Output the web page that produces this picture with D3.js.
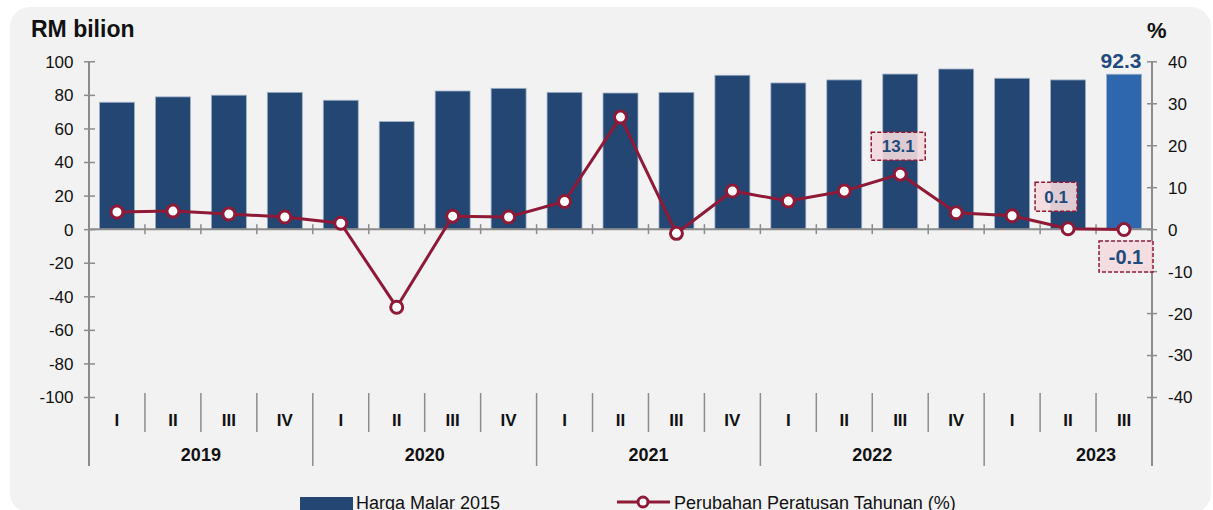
<!DOCTYPE html>
<html><head><meta charset="utf-8">
<script src="https://cdn.jsdelivr.net/npm/d3@7/dist/d3.min.js"></script>
<style>body{margin:0;background:#fff;} svg text{font-family:"Liberation Sans",Arial,sans-serif;}</style>
</head><body><svg id="c" width="1213" height="510"></svg>
<script>
const years = ["2019","2020","2021","2022","2023"];
const quarters = ["I","II","III","IV","I","II","III","IV","I","II","III","IV","I","II","III","IV","I","II","III"];
const quarterYears = ["2019","2019","2019","2019","2020","2020","2020","2020","2021","2021","2021","2021","2022","2022","2022","2022","2023","2023","2023"];
const hargaMalar = [75.6,78.8,79.8,81.5,76.8,64.1,82.3,83.9,81.5,81.1,81.5,91.7,87.1,88.9,92.4,95.4,89.9,88.9,92.3];
const perubahan = [4.1,4.3,3.6,2.9,1.4,-18.6,3.1,2.9,6.6,26.7,-1.0,9.1,6.7,9.1,13.1,3.9,3.2,0.1,-0.1];
const leftTicks = [100,80,60,40,20,0,-20,-40,-60,-80,-100];
const rightTicks = [40,30,20,10,0,-10,-20,-30,-40];
const annotations = [
  {i:14,text:"13.1",dx:-2,dy:-28,w:54,h:28,fs:17},
  {i:17,text:"0.1",dx:-12,dy:-32,w:42,h:29,fs:17},
  {i:18,text:"-0.1",dx:2,dy:27,w:54,h:31,fs:20}
];

const svg = d3.select("#c");
const x0 = 89, x1 = 1152;
svg.append("rect").attr("x",10).attr("y",7).attr("width",1201).attr("height",506).attr("rx",20).attr("fill","#f2f2f2");

const x = d3.scaleBand().domain(d3.range(quarters.length)).range([x0,x1]).paddingInner(0.375).paddingOuter(0.1875);
const xb = d3.scaleBand().domain(d3.range(quarters.length)).range([x0,x1]);
const yL = d3.scaleLinear().domain([-100,100]).range([397,61.3]);
const yR = d3.scaleLinear().domain([-40,40]).range([397,61.3]);
const axisCol = "#8c8c8c";
const fmt = d => String(d);

// bars
svg.append("g").selectAll("rect").data(hargaMalar).join("rect")
  .attr("x",(d,i)=>x(i)).attr("width",x.bandwidth())
  .attr("y",d=>yL(d)).attr("height",d=>yL(0)-yL(d))
  .attr("fill",(d,i)=>i===hargaMalar.length-1?"#2e67ad":"#234673")
  .attr("stroke","#9fb1c8").attr("stroke-width",0.8);

// left axis
const gl = svg.append("g").attr("transform",`translate(${x0},0)`)
  .call(d3.axisLeft(yL).tickValues(leftTicks).tickSize(5).tickFormat(fmt));
gl.select(".domain").remove();
gl.selectAll(".tick line").attr("x1",-5).attr("x2",6).attr("stroke",axisCol).attr("stroke-width",1.5);
gl.selectAll(".tick text").attr("x",-15.5).attr("dy","0.35em").attr("font-size",17).attr("fill","#111");
svg.append("line").attr("x1",x0).attr("x2",x0).attr("y1",61).attr("y2",466).attr("stroke",axisCol).attr("stroke-width",2);

// right axis
const gr = svg.append("g").attr("transform",`translate(${x1},0)`)
  .call(d3.axisRight(yR).tickValues(rightTicks).tickSize(5).tickFormat(fmt));
gr.select(".domain").remove();
gr.selectAll(".tick line").attr("x1",-5).attr("x2",5).attr("stroke",axisCol).attr("stroke-width",1.5);
gr.selectAll(".tick text").attr("x",16).attr("dy","0.35em").attr("font-size",17).attr("fill","#111");
svg.append("line").attr("x1",x1).attr("x2",x1).attr("y1",61).attr("y2",466).attr("stroke",axisCol).attr("stroke-width",2);

// zero line with ticks
svg.append("line").attr("x1",x0).attr("x2",x1).attr("y1",yL(0)).attr("y2",yL(0)).attr("stroke",axisCol).attr("stroke-width",2);
svg.append("g").selectAll("line").data(d3.range(1,quarters.length)).join("line")
  .attr("x1",i=>xb(i)).attr("x2",i=>xb(i)).attr("y1",yL(0)-5).attr("y2",yL(0)+5)
  .attr("stroke",axisCol).attr("stroke-width",1.5);

// category axis
svg.append("g").selectAll("line").data(d3.range(1,quarters.length)).join("line")
  .attr("x1",i=>xb(i)).attr("x2",i=>xb(i)).attr("y1",393)
  .attr("y2",i=>quarterYears[i]!==quarterYears[i-1]?466:432)
  .attr("stroke",axisCol).attr("stroke-width",1.5);
svg.append("g").selectAll("text").data(quarters).join("text")
  .attr("x",(d,i)=>xb(i)+xb.bandwidth()/2).attr("y",426).attr("text-anchor","middle")
  .attr("font-size",17).attr("font-weight","bold").attr("fill","#111").text(d=>d);
svg.append("g").selectAll("text").data(years).join("text")
  .attr("x",yr=>{const idx=quarterYears.map((q,i)=>q===yr?i:-1).filter(i=>i>=0);return xb(idx[0])+2*xb.bandwidth();})
  .attr("y",461).attr("text-anchor","middle")
  .attr("font-size",18).attr("font-weight","bold").attr("fill","#111").text(d=>d);

// line
const lineCol = "#8f1a38";
const cx = i=>xb(i)+xb.bandwidth()/2;
svg.append("path").datum(perubahan)
  .attr("d",d3.line().x((d,i)=>cx(i)).y(d=>yR(d)))
  .attr("fill","none").attr("stroke",lineCol).attr("stroke-width",3);
svg.append("g").selectAll("circle").data(perubahan).join("circle")
  .attr("cx",(d,i)=>cx(i)).attr("cy",d=>yR(d)).attr("r",6)
  .attr("fill","#fff").attr("stroke",lineCol).attr("stroke-width",3);

// annotations
annotations.forEach(a=>{
  const px = cx(a.i)+a.dx, py = yR(perubahan[a.i])+a.dy;
  svg.append("rect").attr("x",px-a.w/2).attr("y",py-a.h/2).attr("width",a.w).attr("height",a.h)
    .attr("fill","rgba(244,218,222,0.9)").attr("stroke",lineCol).attr("stroke-width",1.5).attr("stroke-dasharray","4,2");
  svg.append("text").attr("x",px).attr("y",py).attr("dy","0.36em").attr("text-anchor","middle")
    .attr("font-size",a.fs).attr("font-weight","bold").attr("fill","#1f4a7c").text(a.text);
});

// last bar label
const li = hargaMalar.length-1;
svg.append("text").attr("x",cx(li)-3).attr("y",68).attr("text-anchor","middle")
  .attr("font-size",21).attr("font-weight","bold").attr("fill","#1f4a7c").text(hargaMalar[li].toFixed(1));

// titles
svg.append("text").attr("x",31).attr("y",37).attr("font-size",23).attr("font-weight","bold").attr("fill","#111").text("RM bilion");
svg.append("text").attr("x",1147).attr("y",38).attr("font-size",22).attr("font-weight","bold").attr("fill","#111").text("%");

// legend
svg.append("rect").attr("x",300).attr("y",497).attr("width",53).attr("height",14).attr("fill","#234673");
svg.append("text").attr("x",356).attr("y",509).attr("font-size",18).attr("fill","#111").text("Harga Malar 2015");
svg.append("line").attr("x1",617).attr("x2",670).attr("y1",502).attr("y2",502).attr("stroke",lineCol).attr("stroke-width",3);
svg.append("circle").attr("cx",643).attr("cy",502).attr("r",5).attr("fill","#fff").attr("stroke",lineCol).attr("stroke-width",3);
svg.append("text").attr("x",674).attr("y",509).attr("font-size",18).attr("fill","#111").text("Perubahan Peratusan Tahunan (%)");
</script></body></html>
